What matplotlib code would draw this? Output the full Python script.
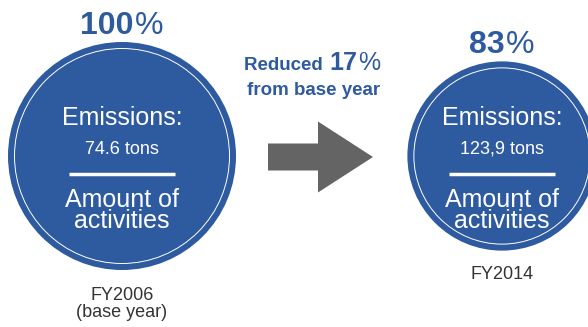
import matplotlib
matplotlib.use('Agg')
import matplotlib.pyplot as plt
from matplotlib.patches import Circle, FancyArrow

plt.rcParams['font.family'] = ['Liberation Sans', 'DejaVu Sans']

BLUE = '#2e5a9f'
ARROW = '#646464'
DARK = '#333333'

# emissions per amount of activities, FY2006 is the base year
years = ['FY2006', 'FY2014']
year_notes = ['(base year)', '']
percents = [100, 83]
emissions = ['74.6 tons', '123,9 tons']
reduction = 17

W, H = 588, 327
fig = plt.figure(figsize=(W / 100, H / 100), dpi=100)
ax = fig.add_axes([0, 0, 1, 1])
ax.set_xlim(0, W)
ax.set_ylim(H, 0)
ax.set_aspect('equal')
ax.axis('off')

centers_x = [122, 502]
cy = 156
full_r = 114          # radius of the 100% circle
renderer = fig.canvas.get_renderer()


def row(x_mid, y, parts, gap=0):
    """draw a run of text pieces side by side, centred on x_mid"""
    arts = [ax.text(0, y, s, va='baseline', ha='left', **kw) for s, kw in parts]
    widths = [a.get_window_extent(renderer).width for a in arts]
    x = x_mid - (sum(widths) + gap * (len(arts) - 1)) / 2
    for a, w in zip(arts, widths):
        a.set_x(x)
        x += w + gap
    return arts


for cx, pct, em, yr, note in zip(centers_x, percents, emissions, years, year_notes):
    r = full_r * pct / 100
    ax.add_patch(Circle((cx, cy), r, facecolor=BLUE, edgecolor='none'))
    ax.add_patch(Circle((cx, cy), r - 6.5, facecolor='none', edgecolor='white', lw=0.7))

    row(cx, cy - r - 8.5, [(str(pct), dict(fontsize=23, fontweight='bold', color=BLUE)),
                          ('%', dict(fontsize=23, color=BLUE))], gap=1)

    ax.text(cx, cy - 31, 'Emissions:', ha='center', va='baseline', fontsize=18, color='white')
    ax.text(cx, cy - 2, em, ha='center', va='baseline', fontsize=13, color='white')
    ax.plot([cx - 53, cx + 53], [cy + 18, cy + 18], color='white', lw=2.5, solid_capstyle='butt')
    # baseline of a multi-line text is that of its last line
    ax.text(cx, cy + 72, 'Amount of\nactivities', ha='center', va='baseline',
            multialignment='center', linespacing=0.82, fontsize=18, color='white')

    if note:
        ax.text(cx, cy + r + 47, yr + '\n' + note, ha='center', va='baseline',
                multialignment='center', linespacing=1.0, fontsize=13, color=DARK)
    else:
        ax.text(cx, cy + r + 28, yr, ha='center', va='baseline', fontsize=13, color=DARK)

# arrow between the two circles
ax.add_patch(FancyArrow(268, cy + 1, 105, 0, width=27, head_width=71, head_length=55,
                        length_includes_head=True, facecolor=ARROW, edgecolor='none'))

row(312, 70, [('Reduced ', dict(fontsize=13.5, fontweight='bold', color=BLUE)),
              (str(reduction), dict(fontsize=18, fontweight='bold', color=BLUE)),
              ('%', dict(fontsize=18, color=BLUE))], gap=1)
ax.text(314, 95, 'from base year', ha='center', va='baseline', fontsize=13.5,
        fontweight='bold', color=BLUE)

fig.savefig('out.png', dpi=100, facecolor='white')
